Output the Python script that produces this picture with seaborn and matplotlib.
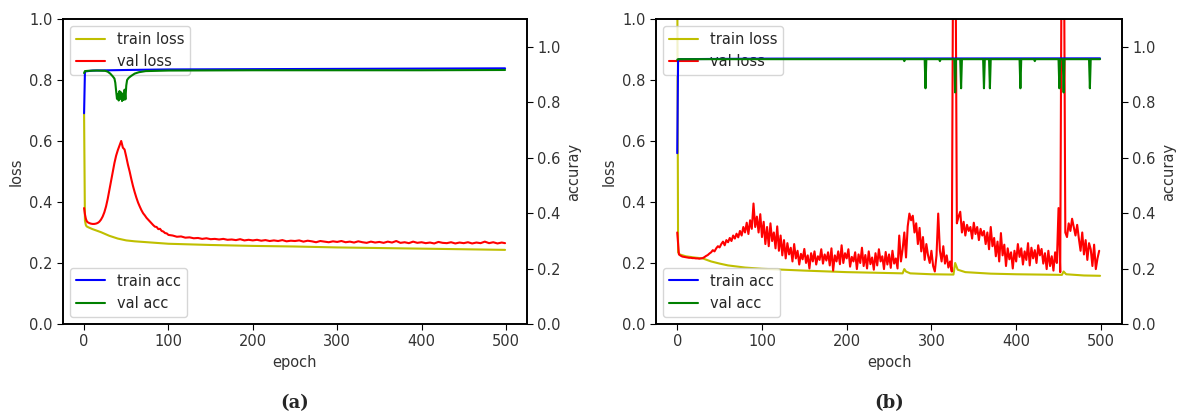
import matplotlib
matplotlib.use("Agg")
import matplotlib.pyplot as plt
import seaborn as sns

# ---------------- panel (a) ----------------
a_train_loss_ep = [0, 1, 2, 3, 5, 10, 20, 30, 40, 50, 60, 80, 100, 150, 200, 250, 300, 350, 400, 450, 499]
a_train_loss = [0.690, 0.340, 0.325, 0.320, 0.317, 0.311, 0.301, 0.289, 0.280, 0.274, 0.271, 0.267, 0.263,
                0.259, 0.256, 0.254, 0.251, 0.249, 0.247, 0.245, 0.243]

a_val_loss_ep = [0, 1, 2, 3, 4] + list(range(6, 101, 2)) + list(range(105, 500, 5)) + [499]
a_val_loss = [0.380, 0.360, 0.346, 0.338, 0.334,
              0.331, 0.329, 0.328, 0.328, 0.329, 0.331, 0.335, 0.342, 0.352, 0.366,
              0.385, 0.410, 0.440, 0.472, 0.500, 0.528, 0.552, 0.570, 0.585, 0.600,
              0.578, 0.572, 0.548, 0.522, 0.500, 0.475, 0.452, 0.432, 0.414, 0.398,
              0.385, 0.373, 0.363, 0.356, 0.348, 0.342, 0.336, 0.330, 0.324, 0.319,
              0.318, 0.311, 0.312, 0.305, 0.303, 0.298, 0.297, 0.292,
              0.290, 0.286, 0.287, 0.283, 0.284, 0.281, 0.282, 0.279, 0.281, 0.278,
              0.279, 0.277, 0.279, 0.276, 0.277, 0.275, 0.278, 0.274, 0.276, 0.274,
              0.276, 0.273, 0.275, 0.272, 0.274, 0.272, 0.275, 0.271, 0.273, 0.272,
              0.274, 0.270, 0.273, 0.271, 0.268, 0.272, 0.270, 0.268, 0.271, 0.269,
              0.272, 0.268, 0.270, 0.267, 0.271, 0.268, 0.266, 0.270, 0.267, 0.269,
              0.266, 0.270, 0.267, 0.272, 0.266, 0.268, 0.265, 0.270, 0.266, 0.268,
              0.265, 0.267, 0.264, 0.269, 0.266, 0.265, 0.268, 0.264, 0.267, 0.265,
              0.268, 0.264, 0.267, 0.265, 0.270, 0.265, 0.268, 0.264, 0.267,
              0.265]

a_train_acc_ep = [0, 1, 2, 10, 50, 100, 200, 300, 400, 499]
a_train_acc = [0.760, 0.908, 0.911, 0.914, 0.916, 0.918, 0.919, 0.920, 0.921, 0.922]

a_val_acc_ep = [0, 1, 5, 15, 25, 28, 31, 34, 36, 37, 38, 39, 40, 41, 42, 43, 44, 45, 46, 47, 48, 49,
                50, 51, 53, 56, 60, 65, 73, 100, 200, 300, 400, 499]
a_val_acc = [0.905, 0.912, 0.913, 0.914, 0.913, 0.910, 0.903, 0.893, 0.885, 0.870, 0.840, 0.812,
             0.830, 0.806, 0.840, 0.812, 0.835, 0.804, 0.830, 0.808, 0.845, 0.810,
             0.860, 0.880, 0.888, 0.895, 0.903, 0.908, 0.912, 0.914, 0.915, 0.915, 0.915, 0.916]

# ---------------- panel (b) ----------------
b_train_loss_ep = [0, 1, 3, 10, 20, 30, 40, 50, 60, 80, 100, 150, 200, 250, 266, 268, 270, 275, 300,
                   326, 328, 331, 340, 370, 400, 454, 456, 459, 480, 499]
b_train_loss = [1.200, 0.235, 0.228, 0.222, 0.218, 0.215, 0.205, 0.198, 0.192, 0.185, 0.181, 0.175,
                0.170, 0.167, 0.166, 0.180, 0.172, 0.166, 0.163, 0.162, 0.200, 0.178, 0.170, 0.165,
                0.163, 0.161, 0.172, 0.163, 0.159, 0.158]

b_val_loss_ep = list(range(0, 500, 2))
b_val_loss = [0.300, 0.228, 0.224, 0.221, 0.220, 0.219, 0.218, 0.217, 0.217, 0.216,
              0.216, 0.215, 0.215, 0.214, 0.215, 0.216, 0.219, 0.223, 0.226, 0.231,
              0.235, 0.242, 0.238, 0.248, 0.255, 0.251, 0.262, 0.270, 0.258, 0.275,
              0.268, 0.282, 0.272, 0.290, 0.280, 0.296, 0.284, 0.305, 0.290, 0.318,
              0.300, 0.332, 0.295, 0.340, 0.312, 0.395, 0.318, 0.352, 0.300, 0.360,
              0.285, 0.335, 0.262, 0.318, 0.255, 0.330, 0.272, 0.300, 0.248, 0.320,
              0.240, 0.290, 0.225, 0.275, 0.215, 0.265, 0.228, 0.250, 0.205, 0.262,
              0.215, 0.240, 0.195, 0.230, 0.212, 0.246, 0.200, 0.225, 0.182, 0.232,
              0.205, 0.238, 0.195, 0.222, 0.210, 0.245, 0.198, 0.228, 0.208, 0.235,
              0.192, 0.248, 0.175, 0.225, 0.205, 0.238, 0.196, 0.258, 0.200, 0.232,
              0.215, 0.245, 0.188, 0.220, 0.205, 0.235, 0.180, 0.228, 0.200, 0.250,
              0.190, 0.226, 0.182, 0.238, 0.196, 0.218, 0.178, 0.232, 0.192, 0.245,
              0.205, 0.222, 0.180, 0.236, 0.195, 0.228, 0.184, 0.240, 0.198, 0.215,
              0.182, 0.290, 0.205, 0.245, 0.300, 0.218, 0.320, 0.362, 0.340, 0.355,
              0.300, 0.330, 0.262, 0.315, 0.238, 0.285, 0.210, 0.262, 0.225, 0.200,
              0.240, 0.190, 0.172, 0.225, 0.362, 0.240, 0.205, 0.255, 0.198, 0.225,
              0.185, 0.205, 0.172, 1.500, 1.500, 0.330, 0.352, 0.368, 0.300, 0.335,
              0.290, 0.325, 0.305, 0.318, 0.280, 0.332, 0.295, 0.318, 0.275, 0.312,
              0.290, 0.305, 0.262, 0.300, 0.245, 0.318, 0.255, 0.282, 0.222, 0.270,
              0.205, 0.298, 0.225, 0.260, 0.190, 0.248, 0.212, 0.235, 0.182, 0.240,
              0.205, 0.262, 0.220, 0.248, 0.195, 0.238, 0.210, 0.265, 0.192, 0.250,
              0.215, 0.242, 0.200, 0.258, 0.225, 0.246, 0.198, 0.232, 0.180, 0.240,
              0.190, 0.222, 0.175, 0.235, 0.200, 0.380, 0.170, 1.500, 1.500, 0.300,
              0.285, 0.330, 0.305, 0.345, 0.318, 0.290, 0.325, 0.280, 0.240, 0.300,
              0.228, 0.275, 0.210, 0.265, 0.245, 0.190, 0.260, 0.180, 0.215, 0.240]

b_train_acc_ep = [0, 1, 2, 100, 499]
b_train_acc = [0.616, 0.952, 0.955, 0.957, 0.958]

b_val_acc_ep = [0, 1, 267, 268, 269, 292, 293, 294, 309, 310, 311, 327, 328, 329, 334, 335, 336,
                361, 362, 363, 368, 369, 370, 404, 405, 406, 421, 422, 423, 450, 451, 452,
                455, 456, 457, 486, 487, 488, 499]
b_val_acc = [0.953, 0.955, 0.955, 0.948, 0.955, 0.955, 0.850, 0.955, 0.955, 0.948, 0.955,
             0.955, 0.835, 0.955, 0.955, 0.850, 0.955, 0.955, 0.850, 0.955, 0.955, 0.850, 0.955,
             0.955, 0.850, 0.955, 0.955, 0.948, 0.955, 0.955, 0.850, 0.955,
             0.955, 0.835, 0.955, 0.955, 0.850, 0.955, 0.955]

x_ticks = [0, 100, 200, 300, 400, 500]
y_ticks = [0.0, 0.2, 0.4, 0.6, 0.8, 1.0]

sns.set_style("ticks")
plt.rcParams["font.family"] = ["DejaVu Sans"]
txt = "#333333"
fs = 10.5


def draw_panel(rect, tl, vl, ta, va, caption):
    ax = fig.add_axes(rect)
    sns.lineplot(x=tl[0], y=tl[1], ax=ax, color="y", lw=1.5, label="train loss")
    sns.lineplot(x=vl[0], y=vl[1], ax=ax, color="r", lw=1.5, label="val loss")
    ax.set_ylim(0, 1.0)
    ax.set_xlim(-25, 525)
    ax.set_xticks(x_ticks)
    ax.set_yticks(y_ticks)
    ax.set_xlabel("epoch", fontsize=fs, color=txt)
    ax.set_ylabel("loss", fontsize=fs, color=txt)
    ax.legend(loc="upper left", fontsize=fs)

    ax2 = ax.twinx()
    sns.lineplot(x=ta[0], y=ta[1], ax=ax2, color="b", lw=1.5, label="train acc")
    sns.lineplot(x=va[0], y=va[1], ax=ax2, color="g", lw=1.5, label="val acc")
    ax2.set_ylim(0, 1.1)
    ax2.set_yticks(y_ticks)
    ax2.set_ylabel("accuray", fontsize=fs, color=txt)
    ax2.legend(loc="lower left", fontsize=fs)

    for a in (ax, ax2):
        a.tick_params(labelsize=fs, labelcolor=txt, color="black", length=4)
        for s in a.spines.values():
            s.set_color("black")
            s.set_linewidth(1.2)

    cx = rect[0] + rect[2] / 2
    fig.text(cx, 0.03, caption, ha="center", va="center", fontsize=13,
             fontweight="bold", family="DejaVu Serif")


fig = plt.figure(figsize=(11.84, 4.16), dpi=100)

draw_panel([0.0532, 0.2212, 0.3919, 0.7332],
           (a_train_loss_ep, a_train_loss), (a_val_loss_ep, a_val_loss),
           (a_train_acc_ep, a_train_acc), (a_val_acc_ep, a_val_acc), "(a)")
draw_panel([0.5541, 0.2212, 0.3936, 0.7332],
           (b_train_loss_ep, b_train_loss), (b_val_loss_ep, b_val_loss),
           (b_train_acc_ep, b_train_acc), (b_val_acc_ep, b_val_acc), "(b)")

fig.savefig("out.png", dpi=100, facecolor="white")
